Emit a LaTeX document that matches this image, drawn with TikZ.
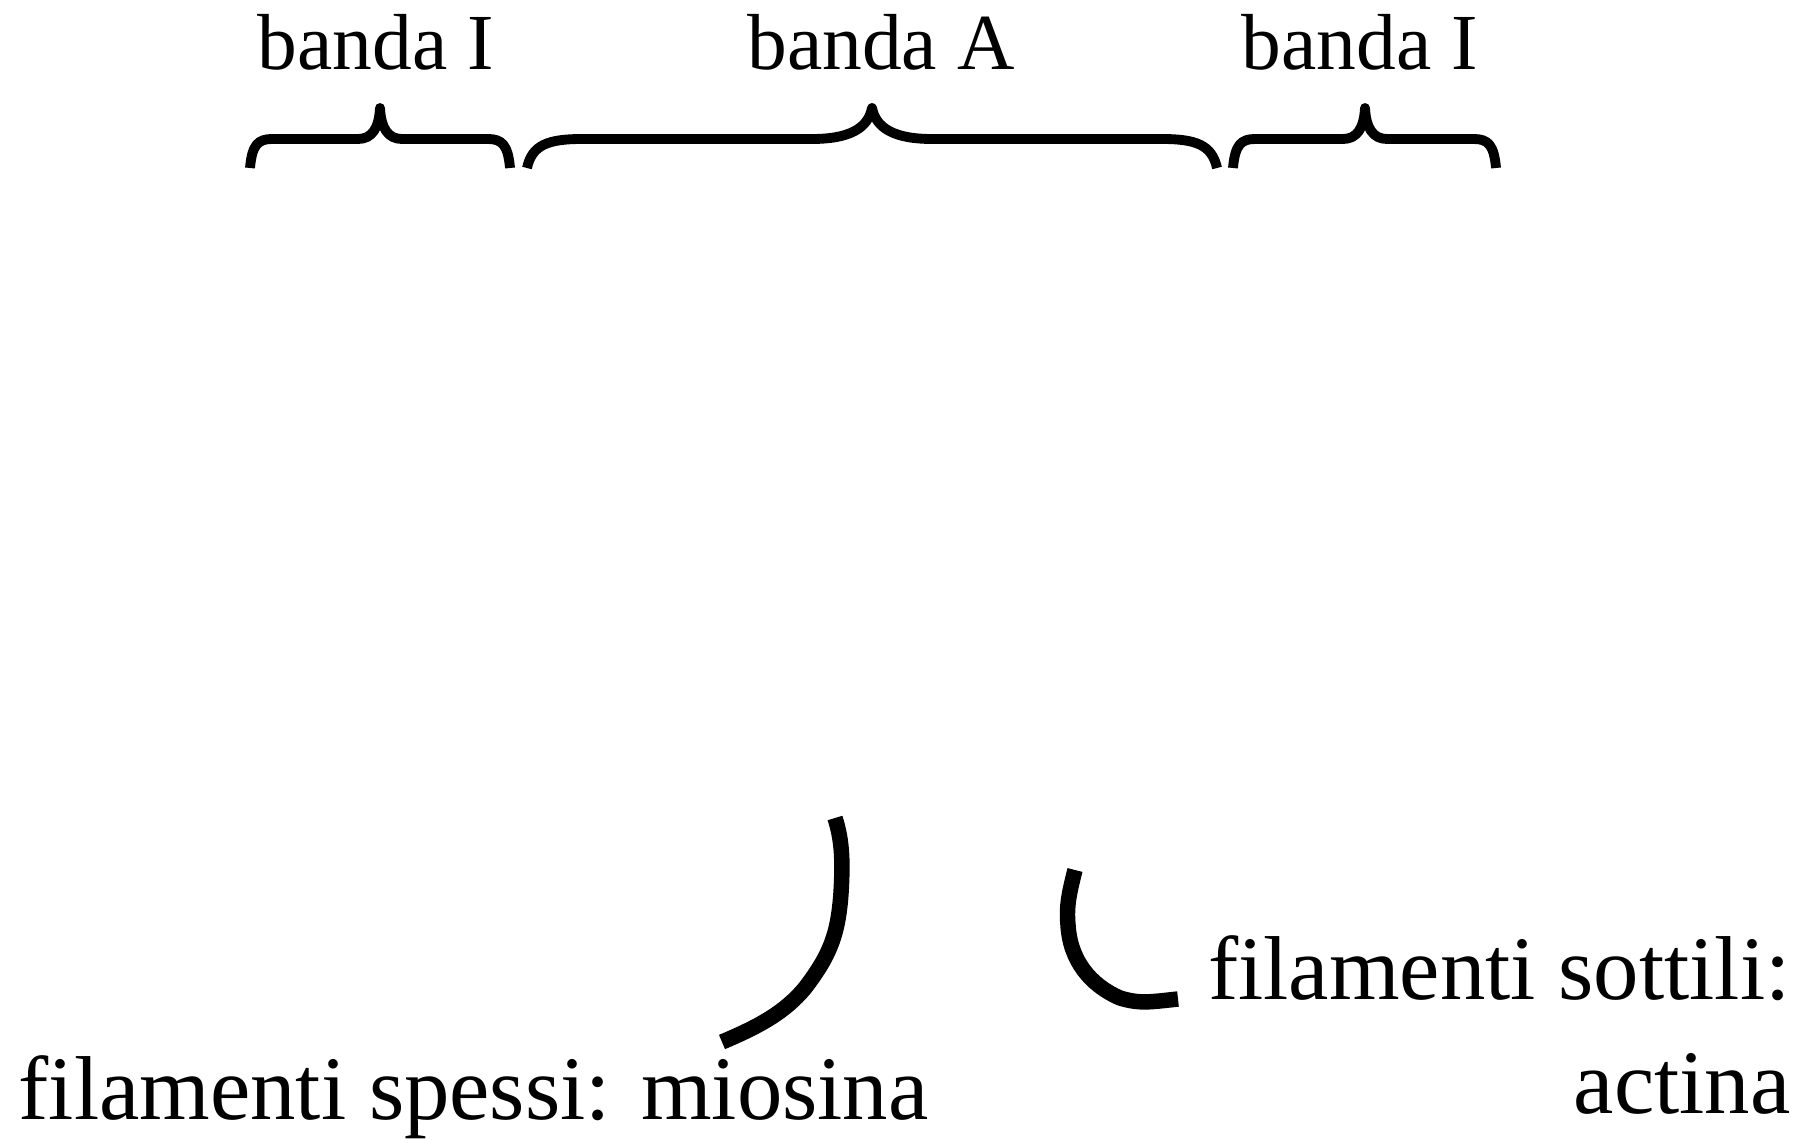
\documentclass[tikz,border=0pt]{standalone}
\usepackage{fontspec}
\setmainfont{Liberation Serif}
\begin{document}
\begin{tikzpicture}[x=0.01cm,y=-0.01cm,
  bracepath/.style={line width=2.8pt, line cap=butt, line join=round},
  leader/.style={line width=4.4pt, line cap=butt, line join=round},
  toplabel/.style={anchor=base, inner sep=0pt, font=\fontsize{22.6}{27}\selectfont},
  botlabel/.style={inner sep=0pt, font=\fontsize{25.8}{32.4}\selectfont},
  filament/.style={draw=white, fill=white, rounded corners=18}]
\useasboundingbox (0,0) rectangle (1818,1140);
% thick filaments (white on white)
\foreach \yy in {274,391,510,628,748,867}
  \draw[filament] (540,\yy-18) rectangle (1160,\yy+18);
% labels
\node[toplabel] (bI1) at (376,70) {banda I};
\node[toplabel] (bA) at (881,70) {banda A};
\node[toplabel] (bI2) at (1360,70) {banda I};
% braces
\draw[bracepath] (250,168) .. controls (252,145) and (258,139) .. (272,139) -- (358,139)
  .. controls (372,139) and (379,128) .. (380,108)
  .. controls (381,128) and (388,139) .. (402,139) -- (488,139)
  .. controls (502,139) and (508,145) .. (510,168);
\draw[bracepath] (527,168) .. controls (532,145) and (548,139) .. (582,139) -- (812,139)
  .. controls (850,139) and (868,128) .. (872,108)
  .. controls (876,128) and (894,139) .. (932,139) -- (1162,139)
  .. controls (1196,139) and (1212,145) .. (1217,168);
\draw[bracepath] (1233,168) .. controls (1235,145) and (1241,139) .. (1255,139) -- (1343,139)
  .. controls (1357,139) and (1364,128) .. (1365,108)
  .. controls (1366,128) and (1373,139) .. (1387,139) -- (1474,139)
  .. controls (1488,139) and (1494,145) .. (1496,168);
% bottom labels
\node[botlabel, anchor=base west] (thick) at (18,1119) {filamenti spessi: miosina};
\node[botlabel, anchor=base east, align=right] (thin) at (1791,1113) {filamenti sottili:\\actina};
% leader lines
\coordinate (thickS) at (722,1042);
\coordinate (thickE) at (835,818);
\coordinate (thinS) at (1178,999);
\coordinate (thinE) at (1075,870);
\draw[leader] (thickS) .. controls (760,1026) and (785,1012) .. (805,988)
  .. controls (830,955) and (838,935) .. (841,893)
  .. controls (843,860) and (842,840) .. (thickE);
\draw[leader] (thinS) .. controls (1150,1002) and (1140,1004) .. (1120,998)
  .. controls (1090,985) and (1070,960) .. (1068,925)
  .. controls (1066,905) and (1070,890) .. (thinE);
\end{tikzpicture}
\end{document}
